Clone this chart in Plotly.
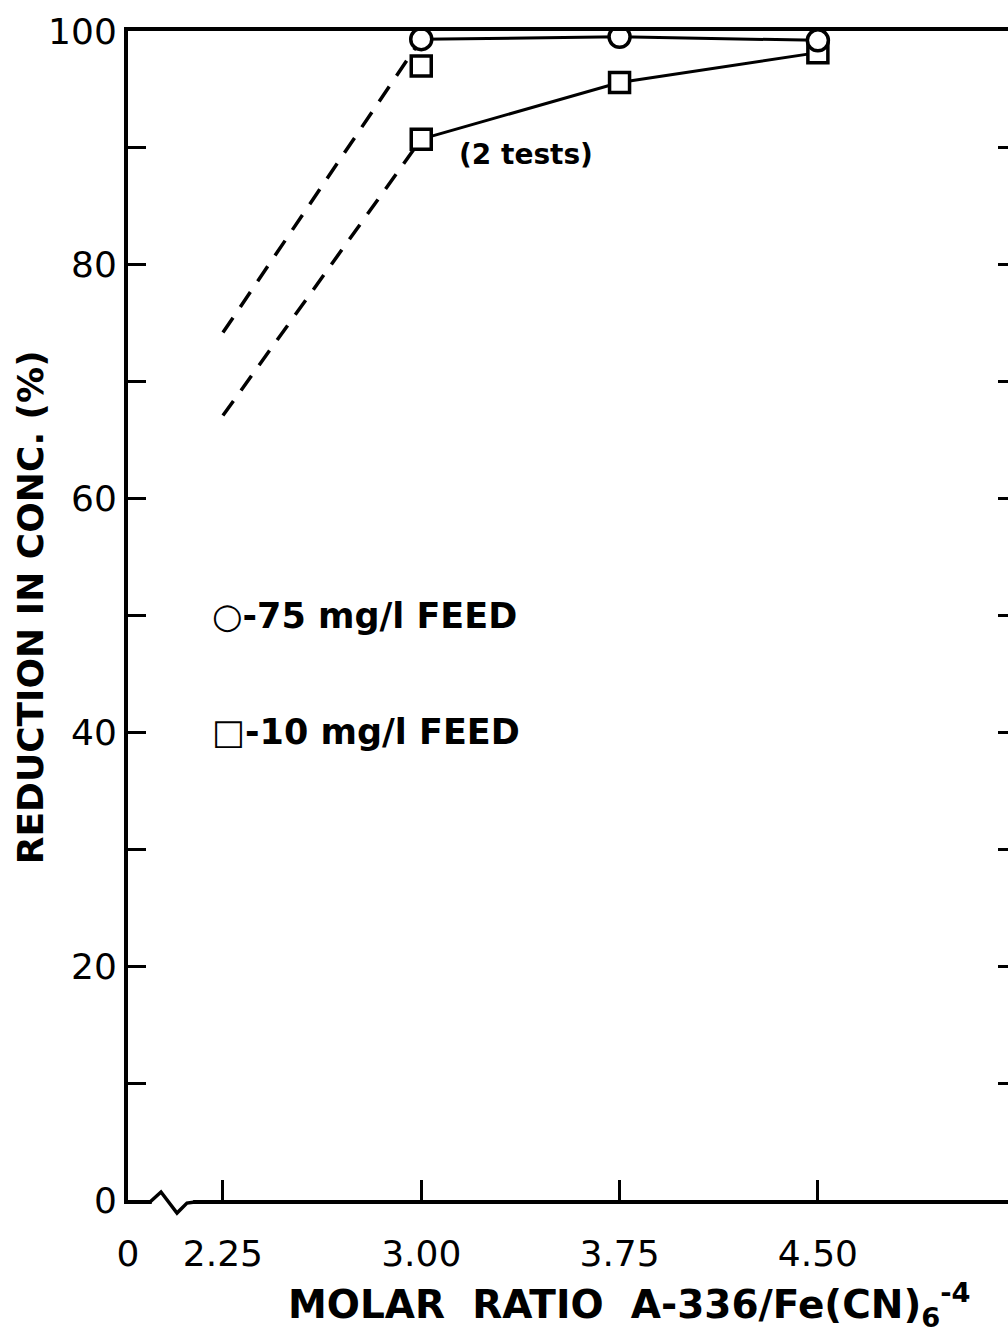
import plotly.graph_objects as go

# ---- data ----
ratio = [3.00, 3.75, 4.50]
feed75 = [99.3, 99.5, 99.2]          # circles, 75 mg/l feed
feed10 = [90.75, 95.6, 98.15]        # squares, 10 mg/l feed (connected)
feed10_second_x = [3.00]
feed10_second = [97.0]               # second test at 3.00
ext_ratio = [2.25, 3.00]
feed75_ext = [74.2, 99.3]            # dashed extrapolation, 75 mg/l
feed10_ext = [67.1, 90.75]           # dashed extrapolation, 10 mg/l

x_tick_vals = [1.891, 2.25, 3.00, 3.75, 4.50]
x_tick_text = ["0", "2.25", "3.00", "3.75", "4.50"]
y_tick_vals = list(range(0, 101, 10))
y_tick_text = [str(v) if v % 20 == 0 else "" for v in y_tick_vals]

FONT = "DejaVu Sans"
BLACK = "black"

fig = go.Figure()

# dashed extrapolations
fig.add_trace(go.Scatter(x=ext_ratio, y=feed75_ext, mode="lines",
                         line=dict(color=BLACK, width=3.5, dash="18px,13px"),
                         showlegend=False, hoverinfo="skip"))
fig.add_trace(go.Scatter(x=ext_ratio, y=feed10_ext, mode="lines",
                         line=dict(color=BLACK, width=3.5, dash="18px,13px"),
                         showlegend=False, hoverinfo="skip"))

# squares
fig.add_trace(go.Scatter(x=ratio, y=feed10, mode="lines+markers",
                         line=dict(color=BLACK, width=3),
                         marker=dict(symbol="square", size=20, color="white",
                                     line=dict(color=BLACK, width=3.5)),
                         name="10 mg/l FEED", showlegend=False))
fig.add_trace(go.Scatter(x=feed10_second_x, y=feed10_second, mode="markers",
                         marker=dict(symbol="square", size=20, color="white",
                                     line=dict(color=BLACK, width=3.5)),
                         showlegend=False))
# circles
fig.add_trace(go.Scatter(x=ratio, y=feed75, mode="lines+markers",
                         line=dict(color=BLACK, width=3),
                         marker=dict(symbol="circle", size=21, color="white",
                                     line=dict(color=BLACK, width=3.5)),
                         name="75 mg/l FEED", showlegend=False))

# invisible trace to carry right-hand tick axis
fig.add_trace(go.Scatter(x=[], y=[], yaxis="y2", showlegend=False))

BOLD = dict(family=FONT, weight="bold")

fig.update_layout(
    width=1008, height=1333,
    margin=dict(l=128, r=0, t=31, b=133),
    paper_bgcolor="white", plot_bgcolor="white",
    font=dict(family=FONT, color=BLACK, size=36),
    xaxis=dict(range=[1.891, 5.219], tickmode="array", tickvals=x_tick_vals,
               ticktext=x_tick_text, ticks="inside", ticklen=20, tickwidth=3,
               tickcolor=BLACK, showline=True, linewidth=4, linecolor=BLACK,
               mirror=True, showgrid=False, zeroline=False,
               ticklabelstandoff=19, tickfont=dict(size=36)),
    yaxis=dict(range=[0, 100], tickmode="array", tickvals=y_tick_vals,
               ticktext=y_tick_text, ticks="inside", ticklen=18, tickwidth=3,
               tickcolor=BLACK, showline=True, linewidth=4, linecolor=BLACK,
               showgrid=False, zeroline=False, tickfont=dict(size=36),
               ticklabelstandoff=0),
    yaxis2=dict(range=[0, 100], overlaying="y", side="right",
                tickmode="array", tickvals=list(range(10, 100, 10)),
                ticks="inside", ticklen=10, tickwidth=3, tickcolor=BLACK,
                showticklabels=False, showline=False, showgrid=False,
                zeroline=False),
    annotations=[
        dict(x=-0.1114, y=0.507, xref="paper", yref="paper",
             text="REDUCTION IN CONC. (%)", textangle=-90,
             showarrow=False, font=dict(size=36, **BOLD),
             xanchor="center", yanchor="middle"),
        dict(x=3.396, y=89.4, xref="x", yref="y", text="(2 tests)",
             showarrow=False, font=dict(size=28, **BOLD),
             xanchor="center", yanchor="middle"),
        dict(x=2.201, y=50, xref="x", yref="y", text="○-75 mg/l FEED",
             showarrow=False, font=dict(size=35, **BOLD),
             xanchor="left", yanchor="middle"),
        dict(x=2.201, y=40, xref="x", yref="y", text="□-10 mg/l FEED",
             showarrow=False, font=dict(size=35, **BOLD),
             xanchor="left", yanchor="middle"),
        dict(x=0.570, y=-0.0898, xref="paper", yref="paper",
             text="MOLAR  RATIO  A-336/Fe(CN)<sub>6</sub><sup>-4</sup>",
             showarrow=False, font=dict(size=39, **BOLD),
             xanchor="center", yanchor="middle"),
    ],
    shapes=[
        dict(type="rect", xref="paper", yref="paper", x0=0.027, x1=0.074,
             y0=-0.006, y1=0.003, fillcolor="white", line=dict(width=0),
             layer="above"),
        dict(type="path", xref="paper", yref="paper",
             path="M 0.025,-0.0017 L 0.0375,0.0068 L 0.0557,-0.0111 L 0.067,-0.0026 L 0.0761,-0.0017",
             line=dict(color=BLACK, width=3.5), layer="above"),
    ],
)

fig.write_html("out.html")
